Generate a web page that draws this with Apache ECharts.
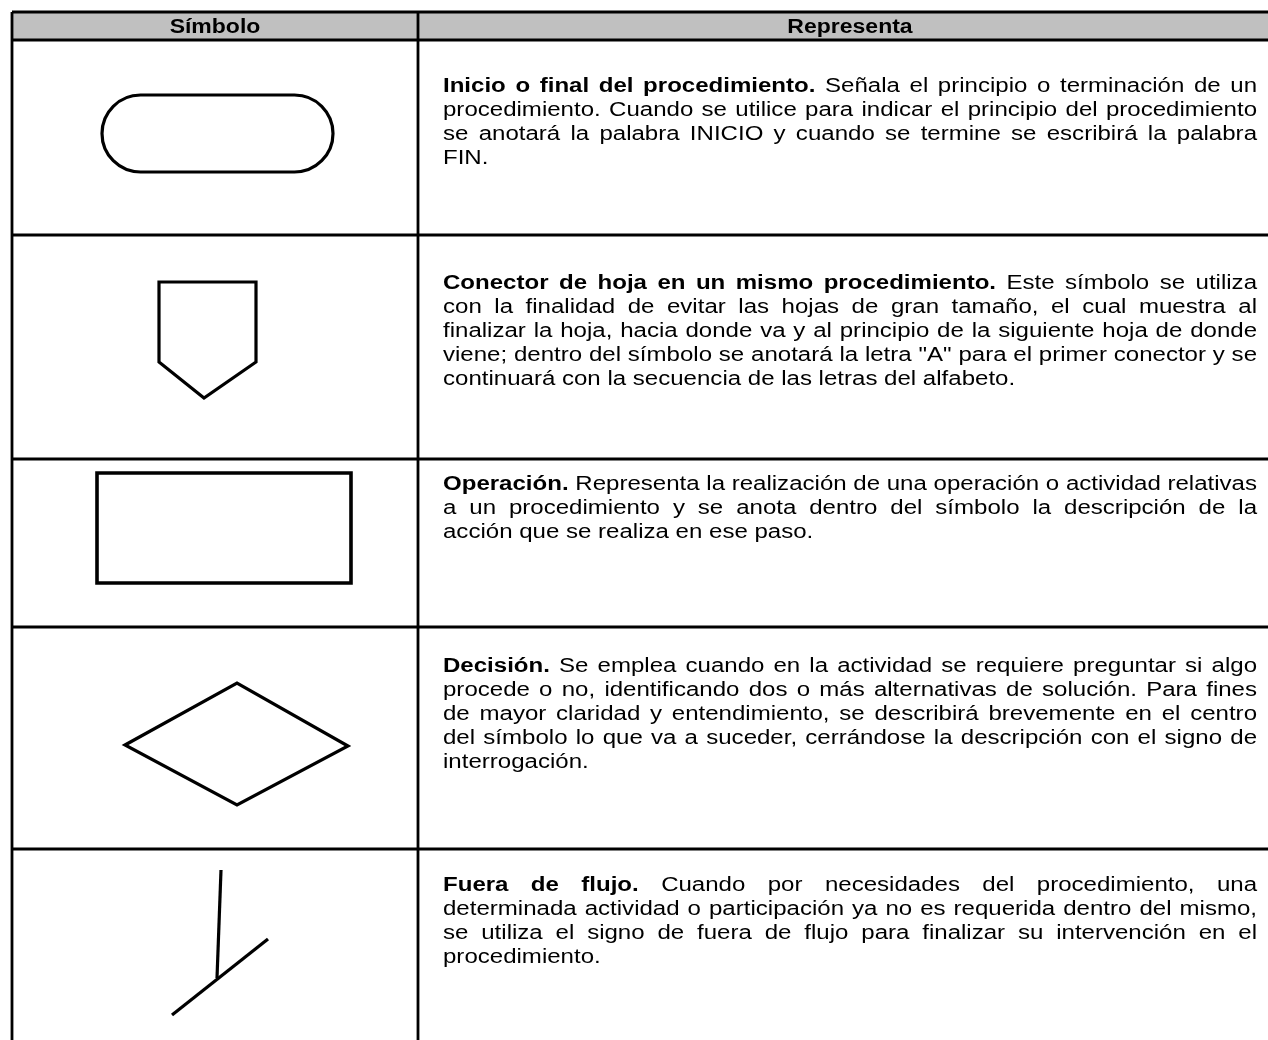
<!DOCTYPE html>
<html><head><meta charset="utf-8">
<script src="https://cdn.jsdelivr.net/npm/echarts@6/dist/echarts.min.js"></script>
<style>html,body{margin:0;padding:0;background:#fff}#c{width:1268px;height:1040px}</style>
</head><body><div id="c"></div>
<script>
// ---------- data ----------
const headers = ['Símbolo', 'Representa'];
const colEdges = [12, 418, 1282];
const rowEdges = [12, 40, 235, 459, 627, 849, 1080];
const titles = [
  'Inicio o final del procedimiento.',
  'Conector de hoja en un mismo procedimiento.',
  'Operación.',
  'Decisión.',
  'Fuera de flujo.'
];
const lines = [
  ['Inicio o final del procedimiento. Señala el principio o terminación de un',
   'procedimiento. Cuando se utilice para indicar el principio del procedimiento',
   'se anotará la palabra INICIO y cuando se termine se escribirá la palabra',
   'FIN.'],
  ['Conector de hoja en un mismo procedimiento. Este símbolo se utiliza',
   'con la finalidad de evitar las hojas de gran tamaño, el cual muestra al',
   'finalizar la hoja, hacia donde va y al principio de la siguiente hoja de donde',
   'viene; dentro del símbolo se anotará la letra "A" para el primer conector y se',
   'continuará con la secuencia de las letras del alfabeto.'],
  ['Operación. Representa la realización de una operación o actividad relativas',
   'a un procedimiento y se anota dentro del símbolo la descripción de la',
   'acción que se realiza en ese paso.'],
  ['Decisión. Se emplea cuando en la actividad se requiere preguntar si algo',
   'procede o no, identificando dos o más alternativas de solución. Para fines',
   'de mayor claridad y entendimiento, se describirá brevemente en el centro',
   'del símbolo lo que va a suceder, cerrándose la descripción con el signo de',
   'interrogación.'],
  ['Fuera de flujo. Cuando por necesidades del procedimiento, una',
   'determinada actividad o participación ya no es requerida dentro del mismo,',
   'se utiliza el signo de fuera de flujo para finalizar su intervención en el',
   'procedimiento.']
];
const firstLineY = [86, 283, 484, 666, 885];
// symbol geometry
const terminatorBox = [[102, 95], [333, 172]];
const connectorPts = [[159, 282], [256, 282], [256, 362], [204, 398], [159, 362]];
const operationBox = [[97, 473], [351, 583]];
const decisionPts = [[125, 745], [237, 683], [348, 746], [237, 805]];
const offFlowStem = [[221, 870], [217, 978]];
const offFlowBar = [[172, 1015], [268, 939]];

// ---------- style ----------
const FONT_FAMILY = '"Liberation Sans", Arial, sans-serif';
const FS = 20;
const LINE_H = 24;
const TEXT_LEFT = 443, TEXT_RIGHT = 1257;
let SX = 1.3;

const ctx = document.createElement('canvas').getContext('2d');
function fontStr(bold) { return (bold ? 'bold ' : '') + FS + 'px ' + FONT_FAMILY; }
function rawW(t, bold) { ctx.font = fontStr(bold); return ctx.measureText(t).width; }

// guard so justified lines never overflow
(function () {
  let maxW = 0;
  lines.forEach((para, pi) => para.forEach((ln, li) => {
    if (li === para.length - 1) return;
    const nb = li === 0 ? titles[pi].split(' ').length : 0;
    const ws = ln.split(' ');
    let w = 0;
    ws.forEach((wd, k) => { w += rawW(wd, k < nb); });
    w += (ws.length - 1) * rawW(' ', false);
    maxW = Math.max(maxW, w);
  }));
  SX = Math.min(SX, (TEXT_RIGHT - TEXT_LEFT) / maxW);
})();

const chart = echarts.init(document.getElementById('c'), null, { renderer: 'canvas' });

function renderAll(params, api) {
  const c = p => api.coord(p);
  const children = [];
  const L = colEdges[0], R = colEdges[colEdges.length - 1];
  const h0 = c([L, rowEdges[0]]), h1 = c([R, rowEdges[1]]);
  children.push({ type: 'rect', shape: { x: h0[0], y: h0[1], width: h1[0] - h0[0], height: h1[1] - h0[1] },
    style: { fill: '#c0c0c0' } });
  rowEdges.forEach(y => {
    const a = c([L, y]), b = c([R, y]);
    children.push({ type: 'line', shape: { x1: a[0], y1: a[1], x2: b[0], y2: b[1] }, style: { stroke: '#000', lineWidth: 2.8 } });
  });
  colEdges.forEach(x => {
    const a = c([x, rowEdges[0]]), b = c([x, rowEdges[rowEdges.length - 1]]);
    children.push({ type: 'line', shape: { x1: a[0], y1: a[1], x2: b[0], y2: b[1] }, style: { stroke: '#000', lineWidth: 2.8 } });
  });
  headers.forEach((h, i) => {
    const p = c([(colEdges[i] + colEdges[i + 1]) / 2, (rowEdges[0] + rowEdges[1]) / 2 + 1]);
    children.push({ type: 'text', x: p[0], y: p[1], scaleX: 1.15,
      style: { text: h, font: 'bold 20px ' + FONT_FAMILY, fill: '#000', align: 'center', verticalAlign: 'middle' } });
  });
  lines.forEach((para, pi) => {
    const nb = titles[pi].split(' ').length;
    para.forEach((ln, li) => {
      const ws = ln.split(' ');
      const widths = ws.map((wd, k) => rawW(wd, li === 0 && k < nb) * SX);
      const total = widths.reduce((a, b) => a + b, 0);
      const last = li === para.length - 1;
      const gap = (last || ws.length < 2) ? rawW(' ', false) * SX : (TEXT_RIGHT - TEXT_LEFT - total) / (ws.length - 1);
      let x = TEXT_LEFT;
      const y = firstLineY[pi] + li * LINE_H;
      ws.forEach((wd, k) => {
        const p = c([x, y]);
        children.push({ type: 'text', x: p[0], y: p[1], scaleX: SX,
          style: { text: wd, font: fontStr(li === 0 && k < nb), fill: '#000', align: 'left', verticalAlign: 'middle' } });
        x += widths[k] + gap;
      });
    });
  });
  const sym = { fill: 'none', stroke: '#000', lineWidth: 3.2, lineJoin: 'miter' };
  const t0 = c(terminatorBox[0]), t1 = c(terminatorBox[1]);
  children.push({ type: 'rect', shape: { x: t0[0], y: t0[1], width: t1[0] - t0[0], height: t1[1] - t0[1], r: (t1[1] - t0[1]) / 2 }, style: sym });
  children.push({ type: 'polygon', shape: { points: connectorPts.map(c) }, style: sym });
  const o0 = c(operationBox[0]), o1 = c(operationBox[1]);
  children.push({ type: 'rect', shape: { x: o0[0], y: o0[1], width: o1[0] - o0[0], height: o1[1] - o0[1] }, style: Object.assign({}, sym, { lineWidth: 3.6 }) });
  children.push({ type: 'polygon', shape: { points: decisionPts.map(c) }, style: sym });
  children.push({ type: 'polyline', shape: { points: offFlowStem.map(c) }, style: sym });
  children.push({ type: 'polyline', shape: { points: offFlowBar.map(c) }, style: sym });
  return { type: 'group', children };
}

chart.setOption({
  animation: false,
  backgroundColor: '#fff',
  grid: { left: 0, right: 0, top: 0, bottom: 0 },
  xAxis: { type: 'value', min: 0, max: 1268, show: false },
  yAxis: { type: 'value', min: 0, max: 1040, inverse: true, show: false },
  series: [{
    type: 'custom',
    coordinateSystem: 'cartesian2d',
    clip: false,
    data: [[0, 0]],
    renderItem: renderAll
  }]
});
</script>
</body></html>
